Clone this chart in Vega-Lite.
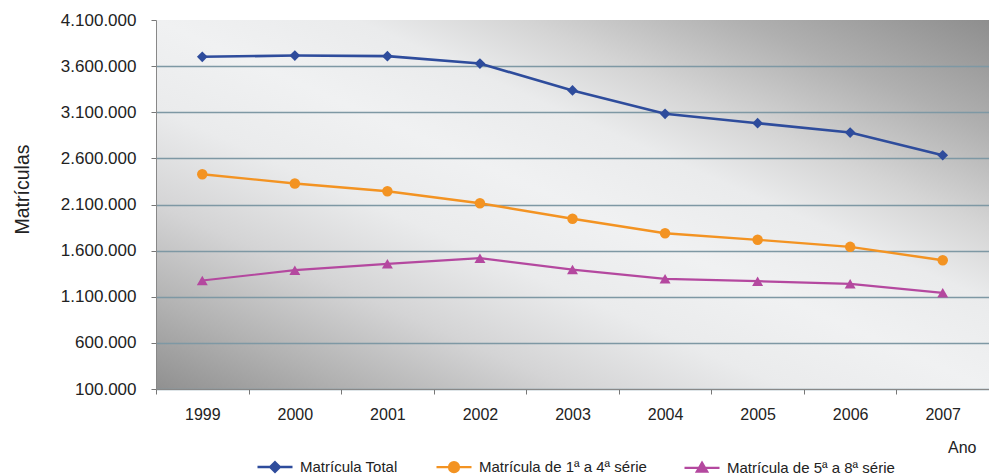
{
  "$schema": "https://vega.github.io/schema/vega-lite/v6.json",
  "width": 833,
  "height": 369,
  "autosize": "none",
  "padding": {"left": 156, "top": 20, "right": 0, "bottom": 86},
  "background": "white",
  "config": {
    "locale": {"number": {"decimal": ",", "thousands": ".", "grouping": [3], "currency": ["R$", ""]}},
    "font": "Liberation Sans",
    "view": {"stroke": null}
  },
  "view": {
    "stroke": null,
    "fill": {
      "gradient": "linear",
      "x1": 0, "y1": 1, "x2": 1, "y2": 0,
      "stops": [
        {"offset": 0, "color": "#909090"},
        {"offset": 0.12, "color": "#b2b2b2"},
        {"offset": 0.25, "color": "#d4d4d5"},
        {"offset": 0.38, "color": "#eaebec"},
        {"offset": 0.5, "color": "#f0f1f2"},
        {"offset": 0.62, "color": "#eaebec"},
        {"offset": 0.72, "color": "#d4d4d4"},
        {"offset": 0.85, "color": "#b0b0b0"},
        {"offset": 1, "color": "#8e8e8e"}
      ]
    }
  },
  "data": {
    "values": [
      {"ano": "1999", "serie": "Matrícula Total", "valor": 3701000},
      {"ano": "2000", "serie": "Matrícula Total", "valor": 3715000},
      {"ano": "2001", "serie": "Matrícula Total", "valor": 3708000},
      {"ano": "2002", "serie": "Matrícula Total", "valor": 3628000},
      {"ano": "2003", "serie": "Matrícula Total", "valor": 3336000},
      {"ano": "2004", "serie": "Matrícula Total", "valor": 3083000},
      {"ano": "2005", "serie": "Matrícula Total", "valor": 2981000},
      {"ano": "2006", "serie": "Matrícula Total", "valor": 2880000},
      {"ano": "2007", "serie": "Matrícula Total", "valor": 2634000},
      {"ano": "1999", "serie": "Matrícula de 1ª a 4ª série", "valor": 2428000},
      {"ano": "2000", "serie": "Matrícula de 1ª a 4ª série", "valor": 2328000},
      {"ano": "2001", "serie": "Matrícula de 1ª a 4ª série", "valor": 2244000},
      {"ano": "2002", "serie": "Matrícula de 1ª a 4ª série", "valor": 2114000},
      {"ano": "2003", "serie": "Matrícula de 1ª a 4ª série", "valor": 1945000},
      {"ano": "2004", "serie": "Matrícula de 1ª a 4ª série", "valor": 1789000},
      {"ano": "2005", "serie": "Matrícula de 1ª a 4ª série", "valor": 1717000},
      {"ano": "2006", "serie": "Matrícula de 1ª a 4ª série", "valor": 1641000},
      {"ano": "2007", "serie": "Matrícula de 1ª a 4ª série", "valor": 1496000},
      {"ano": "1999", "serie": "Matrícula de 5ª a 8ª série", "valor": 1276000},
      {"ano": "2000", "serie": "Matrícula de 5ª a 8ª série", "valor": 1388000},
      {"ano": "2001", "serie": "Matrícula de 5ª a 8ª série", "valor": 1457000},
      {"ano": "2002", "serie": "Matrícula de 5ª a 8ª série", "valor": 1518000},
      {"ano": "2003", "serie": "Matrícula de 5ª a 8ª série", "valor": 1395000},
      {"ano": "2004", "serie": "Matrícula de 5ª a 8ª série", "valor": 1294000},
      {"ano": "2005", "serie": "Matrícula de 5ª a 8ª série", "valor": 1269000},
      {"ano": "2006", "serie": "Matrícula de 5ª a 8ª série", "valor": 1240000},
      {"ano": "2007", "serie": "Matrícula de 5ª a 8ª série", "valor": 1143000}
    ]
  },
  "encoding": {
    "x": {
      "field": "ano",
      "type": "ordinal",
      "scale": {"type": "band", "paddingInner": 0, "paddingOuter": 0},
      "axis": {
        "title": "Ano",
        "titleFontSize": 16,
        "titleFontWeight": "normal",
        "titleColor": "#222",
        "titleAnchor": "end",
        "titleAlign": "right",
        "titleX": 820,
        "titlePadding": 17,
        "labelFontSize": 16,
        "labelColor": "#222",
        "labelAngle": 0,
        "labelPadding": 12,
        "tickBand": "extent",
        "tickSize": 5,
        "tickColor": "#777",
        "domainColor": "#888",
        "grid": false
      }
    },
    "y": {
      "field": "valor",
      "type": "quantitative",
      "scale": {"domain": [100000, 4100000], "nice": false, "zero": false},
      "axis": {
        "values": [100000, 600000, 1100000, 1600000, 2100000, 2600000, 3100000, 3600000, 4100000],
        "format": ",d",
        "title": "Matrículas",
        "titleFontSize": 19.5,
        "titleFontWeight": "normal",
        "titleColor": "#222",
        "titlePadding": 28,
        "titleY": 169,
        "labelFontSize": 17,
        "labelColor": "#222",
        "labelPadding": 15,
        "tickSize": 5,
        "tickColor": "#777",
        "domainColor": "#888",
        "grid": true,
        "gridColor": "#7e98a4",
        "gridWidth": 1.3,
        "gridOpacity": {"condition": {"test": "datum.value >= 4100000", "value": 0}, "value": 1}
      }
    },
    "color": {
      "field": "serie",
      "type": "nominal",
      "scale": {
        "domain": ["Matrícula Total", "Matrícula de 1ª a 4ª série", "Matrícula de 5ª a 8ª série"],
        "range": ["#2e4c9c", "#f39322", "#b4489f"]
      },
      "legend": {
        "title": null,
        "orient": "none",
        "direction": "horizontal",
        "legendX": 100,
        "legendY": 428,
        "padding": 0,
        "columnPadding": 33,
        "labelFontSize": 15,
        "labelColor": "#222",
        "labelOffset": 6,
        "labelLimit": 400,
        "symbolSize": 1225,
        "symbolStrokeWidth": 2,
        "encode": {
          "symbols": {
            "update": {
              "shape": {"signal": "datum.value === 'Matrícula Total' ? 'M-1,0L1,0M0,-0.27L0.27,0L0,0.27L-0.27,0Z' : datum.value === 'Matrícula de 1ª a 4ª série' ? 'M-1,0L1,0M-0.28,0A0.28,0.28,0,1,0,0.28,0A0.28,0.28,0,1,0,-0.28,0Z' : 'M-1,0L1,0M0,-0.3L0.3,0.22L-0.3,0.22Z'"},
              "fill": {"signal": "scale('color', datum.value)"},
              "stroke": {"signal": "scale('color', datum.value)"},
              "strokeWidth": {"value": 2},
              "size": {"value": 1225},
              "opacity": {"value": 1},
              "fillOpacity": {"value": 1}
            }
          }
        }
      }
    }
  },
  "layer": [
    {
      "mark": {"type": "line"},
      "encoding": {
        "strokeWidth": {
          "field": "serie",
          "type": "nominal",
          "scale": {
            "domain": ["Matrícula Total", "Matrícula de 1ª a 4ª série", "Matrícula de 5ª a 8ª série"],
            "range": [2.6, 2.2, 2.2]
          },
          "legend": null
        }
      }
    },
    {
      "transform": [{"filter": "datum.serie === 'Matrícula Total'"}],
      "mark": {"type": "point", "shape": "diamond", "filled": true, "opacity": 1, "size": 115}
    },
    {
      "transform": [{"filter": "datum.serie === 'Matrícula de 1ª a 4ª série'"}],
      "mark": {"type": "point", "shape": "circle", "filled": true, "opacity": 1, "size": 110}
    },
    {
      "transform": [{"filter": "datum.serie === 'Matrícula de 5ª a 8ª série'"}],
      "mark": {"type": "point", "shape": "triangle-up", "filled": true, "opacity": 1, "size": 120}
    }
  ]
}
